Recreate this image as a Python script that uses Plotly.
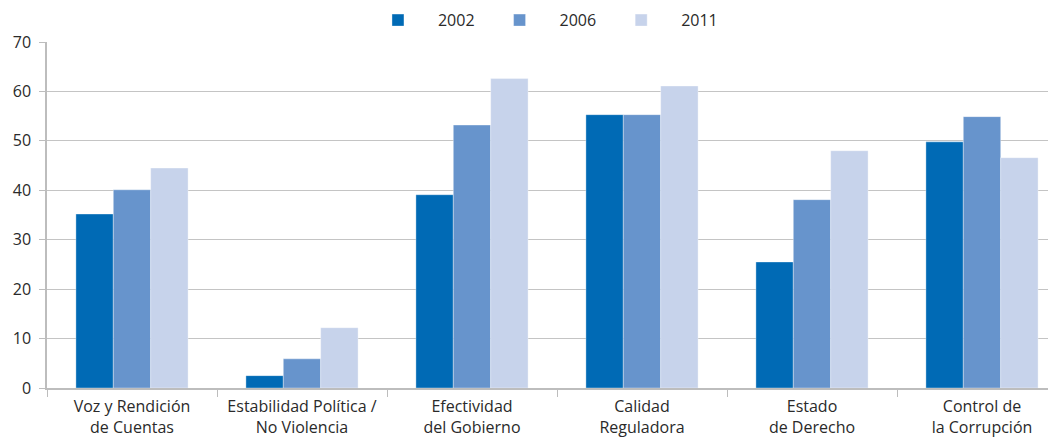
import plotly.graph_objects as go

categories = ["Voz y Rendición<br>de Cuentas", "Estabilidad Política /<br>No Violencia",
              "Efectividad<br>del Gobierno", "Calidad<br>Reguladora",
              "Estado<br>de Derecho", "Control de<br>la Corrupción"]
years = ["2002", "2006", "2011"]
v2002 = [35.2, 2.5, 39.1, 55.3, 25.5, 49.8]
v2006 = [40.1, 5.9, 53.2, 55.3, 38.1, 54.9]
v2011 = [44.5, 12.2, 62.6, 61.1, 48.0, 46.6]
colors = ["#006ab5", "#6794cc", "#c7d3eb"]
y_ticks = [0, 10, 20, 30, 40, 50, 60, 70]

fig = go.Figure()
for name, vals, c in zip(years, [v2002, v2006, v2011], colors):
    fig.add_trace(go.Bar(name=name, x=categories, y=vals, marker_color=c,
                         marker_line_color="rgba(255,255,255,0.6)", marker_line_width=0.6))

font = dict(family="Open Sans, Lato, sans-serif", size=16, color="#2a2a2a")
fig.update_layout(
    width=1048, height=430,
    barmode="group", bargap=0.34, bargroupgap=0,
    plot_bgcolor="white", paper_bgcolor="white",
    margin=dict(l=39, r=6, t=34, b=50, autoexpand=False),
    font=font,
    legend=dict(orientation="h", x=0.492, xanchor="center", y=1.063, yanchor="middle",
                font=dict(size=16, color="#2a2a2a"), itemwidth=70, traceorder="normal"),
    xaxis=dict(type="category", range=[-0.5, 5.4], tickson="boundaries", automargin=False,
               ticks="outside", ticklen=7, tickcolor="#bdbdbd", tickwidth=1.2,
               showgrid=False, showline=True, linecolor="#bdbdbd", linewidth=1.5,
               tickfont=dict(size=16, color="#2a2a2a"), ticklabelstandoff=3),
    yaxis=dict(range=[0, 70], tickvals=y_ticks, showgrid=True, gridcolor="#c4c4c4",
               gridwidth=1.4, showline=True, linecolor="#bdbdbd", linewidth=1.5, automargin=False,
               ticks="outside", ticklen=6, tickcolor="#bdbdbd", zeroline=False,
               tickfont=dict(size=16, color="#2a2a2a"), ticklabelstandoff=5),
)
fig.write_html("out.html")
